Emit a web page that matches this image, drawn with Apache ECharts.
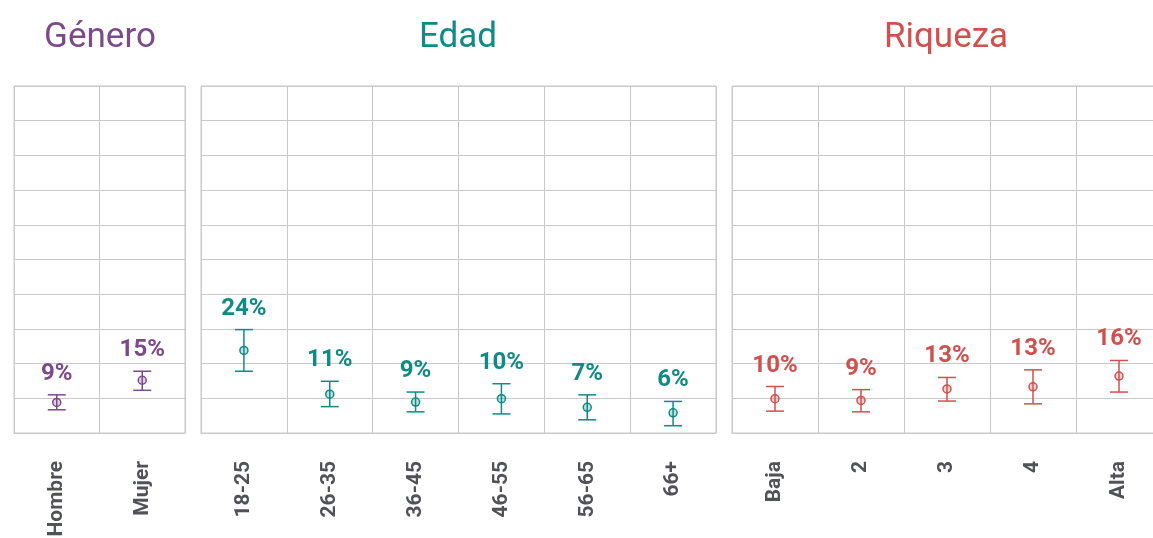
<!DOCTYPE html>
<html>
<head>
<meta charset="utf-8">
<script src="https://cdn.jsdelivr.net/npm/echarts@6/dist/echarts.min.js"></script>
<style>
  html, body { margin: 0; padding: 0; background: #fff; }
  #main { width: 1153px; height: 538px; }
</style>
</head>
<body>
<div id="main"></div>
<script>
// Género
const generoCats = ['Hombre', 'Mujer'];
const generoVal = [8.8, 15.2];
const generoLow = [6.7, 12.3];
const generoHigh = [11.0, 17.8];
const generoLbl = ['9%', '15%'];

// Edad
const edadCats = ['18-25', '26-35', '36-45', '46-55', '56-65', '66+'];
const edadVal = [23.8, 11.2, 8.9, 9.9, 7.4, 5.8];
const edadLow = [17.8, 7.6, 6.1, 5.5, 3.8, 2.1];
const edadHigh = [29.8, 14.9, 11.8, 14.2, 11.0, 9.1];
const edadLbl = ['24%', '11%', '9%', '10%', '7%', '6%'];

// Riqueza
const riqCats = ['Baja', '2', '3', '4', 'Alta'];
const riqVal = [9.9, 9.4, 12.7, 13.3, 16.4];
const riqLow = [6.3, 6.1, 9.2, 8.4, 11.8];
const riqHigh = [13.4, 12.5, 16.0, 18.2, 20.9];
const riqLbl = ['10%', '9%', '13%', '13%', '16%'];

const titles = ['Género', 'Edad', 'Riqueza'];
const colors = ['#7b4a8b', '#0f8a85', '#d1504d'];
const fills = ['rgba(123,74,139,0.25)', 'rgba(15,138,133,0.25)', 'rgba(209,80,77,0.25)'];

const gridColor = '#c9c9c9';
// right panel runs past the edge of the picture (5 x 86px from 732)
const panels = [
  { cats: generoCats, val: generoVal, low: generoLow, high: generoHigh, lbl: generoLbl, left: 14, width: 171, mid: 100 },
  { cats: edadCats, val: edadVal, low: edadLow, high: edadHigh, lbl: edadLbl, left: 201, width: 515, mid: 458 },
  { cats: riqCats, val: riqVal, low: riqLow, high: riqHigh, lbl: riqLbl, left: 732, width: 430, mid: 946 }
];

const chart = echarts.init(document.getElementById('main'));

function makeRender(idx) {
  return function (params, api) {
    const c = colors[idx];
    const p = api.coord([api.value(0), api.value(1)]);
    const lo = api.coord([api.value(0), api.value(2)]);
    const hi = api.coord([api.value(0), api.value(3)]);
    const cap = 9;
    const ls = { stroke: c, lineWidth: 1.5 };
    return {
      type: 'group',
      children: [
        { type: 'line', shape: { x1: p[0], y1: hi[1], x2: p[0], y2: lo[1] }, style: ls },
        { type: 'line', shape: { x1: p[0] - cap, y1: hi[1], x2: p[0] + cap, y2: hi[1] }, style: ls },
        { type: 'line', shape: { x1: p[0] - cap, y1: lo[1], x2: p[0] + cap, y2: lo[1] }, style: ls },
        { type: 'circle', shape: { cx: p[0], cy: p[1], r: 4 }, style: { fill: fills[idx], stroke: c, lineWidth: 1.5 } },
        {
          type: 'text', x: p[0], y: hi[1] - 21,
          style: {
            text: panels[idx].lbl[params.dataIndex], fill: c,
            fontFamily: 'Roboto', fontWeight: 'bold', fontSize: 24,
            align: 'center', verticalAlign: 'middle'
          }
        }
      ]
    };
  };
}

const option = {
  backgroundColor: '#ffffff',
  animation: false,
  title: panels.map((p, i) => ({
    text: titles[i],
    left: p.mid,
    top: 21,
    padding: 0,
    textAlign: 'center',
    textStyle: { color: colors[i], fontFamily: 'Roboto', fontWeight: 'normal', fontSize: 35 }
  })),
  grid: panels.map(p => ({
    left: p.left, width: p.width, top: 86, bottom: 105,
    outerBoundsMode: 'none',
    show: true, borderColor: gridColor, borderWidth: 1
  })),
  xAxis: panels.map((p, i) => ({
    type: 'category',
    gridIndex: i,
    data: p.cats,
    axisTick: { show: false },
    axisLine: { lineStyle: { color: gridColor } },
    splitLine: { show: true, lineStyle: { color: gridColor } },
    axisLabel: {
      rotate: 90, margin: 28, color: '#505256',
      fontFamily: 'Roboto', fontWeight: 'bold', fontSize: 21
    }
  })),
  yAxis: panels.map((p, i) => ({
    type: 'value',
    gridIndex: i,
    min: 0, max: 100, interval: 10,
    axisLabel: { show: false },
    axisLine: { show: false },
    axisTick: { show: false },
    splitLine: { lineStyle: { color: gridColor } }
  })),
  series: panels.map((p, i) => ({
    type: 'custom',
    xAxisIndex: i,
    yAxisIndex: i,
    renderItem: makeRender(i),
    encode: { x: 0, y: 1 },
    data: p.cats.map((c, k) => [k, p.val[k], p.low[k], p.high[k]])
  }))
};

chart.setOption(option);
</script>
</body>
</html>
